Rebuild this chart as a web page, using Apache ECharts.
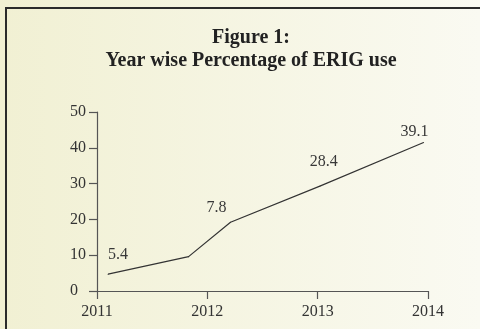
<!DOCTYPE html>
<html>
<head>
<meta charset="utf-8">
<script src="https://cdn.jsdelivr.net/npm/echarts@6/dist/echarts.min.js"></script>
<style>
html,body{margin:0;padding:0;}
#c{width:480px;height:329px;}
</style>
</head>
<body>
<div id="c"></div>
<script>
// Data
const titleLines = ['Figure 1:', 'Year wise Percentage of ERIG use'];
const yearTicks = [2011, 2012, 2013, 2014];
const valueTicks = [0, 10, 20, 30, 40, 50];
// vertices of the drawn line (year position, percentage)
const lineYears = [2011.10, 2011.83, 2012.21, 2013.02, 2013.96];
const lineValues = [4.7, 9.6, 19.2, 29.3, 41.5];
// printed value labels attached to the vertices
const labelTexts = ['5.4', '', '7.8', '28.4', '39.1'];

// label style offsets (pixels)
const labelOffsets = [[10, -19], [0, 0], [-14, -14], [4, -24], [-9, -11]];

const serif = '"Liberation Serif", "DejaVu Serif", serif';

const data = lineYears.map((x, i) => ({
  value: [x, lineValues[i]],
  label: {
    show: labelTexts[i] !== '',
    formatter: labelTexts[i],
    position: 'inside',
    offset: labelOffsets[i],
    align: 'center',
    verticalAlign: 'middle',
    fontFamily: serif,
    fontSize: 16,
    color: '#383838'
  }
}));

const chart = echarts.init(document.getElementById('c'), null, {renderer: 'canvas'});
chart.setOption({
  animation: false,
  backgroundColor: {
    type: 'linear', x: 0, y: 0, x2: 1, y2: 0,
    colorStops: [{offset: 0, color: '#f1f0d3'}, {offset: 1, color: '#fafaf2'}]
  },
  title: {
    text: titleLines.join('\n'),
    left: 246,
    textAlign: 'center',
    top: 21,
    textStyle: {
      fontFamily: serif,
      fontWeight: 'bold',
      fontSize: 20,
      lineHeight: 23,
      color: '#222'
    }
  },
  graphic: [{
    type: 'polyline',
    shape: {points: [[6, 329], [6, 8], [480, 8]]},
    style: {stroke: '#2b2b2b', lineWidth: 2, fill: null}
  }],
  grid: {left: 97, right: 52, top: 112, bottom: 38},
  xAxis: {
    type: 'value',
    min: yearTicks[0],
    max: yearTicks[yearTicks.length - 1],
    interval: 1,
    splitLine: {show: false},
    axisLine: {show: true, lineStyle: {color: '#555', width: 1.2}},
    axisTick: {show: true, length: 8, lineStyle: {color: '#555', width: 1.2}},
    axisLabel: {
      fontFamily: serif, fontSize: 16, color: '#333', margin: 13,
      formatter: v => String(v)
    }
  },
  yAxis: {
    type: 'value',
    min: valueTicks[0],
    max: valueTicks[valueTicks.length - 1],
    interval: 10,
    splitLine: {show: false},
    axisLine: {show: true, lineStyle: {color: '#555', width: 1.2}},
    axisTick: {show: true, length: 8, lineStyle: {color: '#555', width: 1.2}},
    axisLabel: {
      fontFamily: serif, fontSize: 16, color: '#333', margin: 27, align: 'left'
    }
  },
  series: [{
    type: 'line',
    data: data,
    symbol: 'circle',
    symbolSize: 1,
    showSymbol: true,
    itemStyle: {color: '#333'},
    lineStyle: {color: '#333', width: 1.2}
  }]
});
</script>
</body>
</html>
